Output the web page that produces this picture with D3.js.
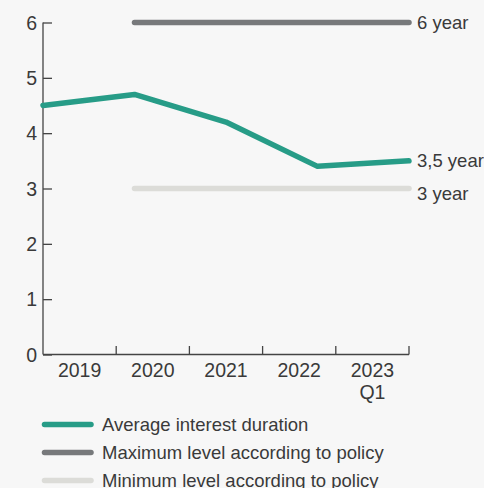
<!DOCTYPE html>
<html>
<head>
<meta charset="utf-8">
<script src="https://cdn.jsdelivr.net/npm/d3@7"></script>
<style>
  html, body { margin: 0; padding: 0; background: #f7f7f7; }
  svg { display: block; }
  text { font-family: "Liberation Sans", Arial, sans-serif; fill: #3a3a3a; }
</style>
</head>
<body>
<svg id="chart" width="484" height="488"></svg>
<script>
// Period labels along the x axis (second line where present)
const periods = ["2019", "2020", "2021", "2022", "2023\nQ1"];
// Average interest duration, years
const durationValues = [4.5, 4.7, 4.2, 3.4, 3.5];
// Policy limits, years (apply from 2020 onward)
const policyStart = 1;
const policyMax = 6;
const policyMin = 3;
const yTicks = [0, 1, 2, 3, 4, 5, 6];
const legendLabels = ["Average interest duration", "Maximum level according to policy", "Minimum level according to policy"];
const endLabels = ["3,5 year", "6 year", "3 year"];

const colors = { duration: "#279c87", max: "#77797b", min: "#dcdcd8", axis: "#444" };

const svg = d3.select("#chart");
const plotLeft = 43, plotRight = 409, plotTop = 22.5, plotBottom = 354.5;

const x = d3.scaleLinear().domain([0, periods.length - 1]).range([plotLeft, plotRight]);
const xBand = d3.scaleBand().domain(periods).range([plotLeft, plotRight]);
const y = d3.scaleLinear().domain([0, 6]).range([plotBottom, plotTop]);

// Y axis: ticks pointing inward
const yAxis = svg.append("g").attr("transform", `translate(${plotLeft},0)`)
  .call(d3.axisRight(y).tickValues(yTicks).tickSize(9).tickFormat(""));
yAxis.select(".domain").attr("d", `M0,${plotTop}V${plotBottom}`);
yAxis.selectAll("line, path").attr("stroke", colors.axis).attr("stroke-width", 1.3);
svg.append("g").selectAll("text").data(yTicks).join("text")
  .attr("x", plotLeft - 6).attr("y", d => y(d)).attr("dy", "0.36em")
  .attr("text-anchor", "end").style("font-size", "19.5px").text(d => d);

// X axis: band boundaries marked with upward ticks
const xAxis = svg.append("g").attr("transform", `translate(0,${plotBottom})`);
xAxis.append("line").attr("x1", plotLeft).attr("x2", plotRight).attr("stroke", colors.axis).attr("stroke-width", 1.3);
xAxis.selectAll("line.tick").data(periods.slice(1).map(p => xBand(p)).concat([plotRight])).join("line")
  .attr("class", "tick").attr("x1", d => d).attr("x2", d => d).attr("y1", 0).attr("y2", -8.5)
  .attr("stroke", colors.axis).attr("stroke-width", 1.3);
const xl = xAxis.selectAll("text").data(periods).join("text")
  .attr("x", d => xBand(d) + xBand.bandwidth() / 2).attr("y", 22)
  .attr("text-anchor", "middle").style("font-size", "19.5px");
xl.selectAll("tspan").data(d => d.split("\n")).join("tspan")
  .attr("x", function() { return this.parentNode.getAttribute("x"); })
  .attr("dy", (d, i) => i === 0 ? 0 : 22).text(d => d);

// Policy limit lines
const policyIdx = d3.range(policyStart, periods.length);
const line = d3.line().x(d => x(d[0])).y(d => y(d[1]));
[[policyMin, colors.min], [policyMax, colors.max]].forEach(([v, c]) => {
  svg.append("path").datum(policyIdx.map(i => [i, v]))
    .attr("d", line).attr("fill", "none").attr("stroke", c)
    .attr("stroke-width", 5.5).attr("stroke-linecap", "round");
});

// Average interest duration
svg.append("path").datum(durationValues.map((v, i) => [i, v]))
  .attr("d", line).attr("fill", "none").attr("stroke", colors.duration)
  .attr("stroke-width", 5.5).attr("stroke-linecap", "round").attr("stroke-linejoin", "round");

// End labels
const last = periods.length - 1;
const ends = [
  { v: durationValues[last], t: endLabels[0], dy: 0 },
  { v: policyMax, t: endLabels[1], dy: 0 },
  { v: policyMin, t: endLabels[2], dy: 5 }
];
svg.append("g").selectAll("text").data(ends).join("text")
  .attr("x", x(last) + 8).attr("y", d => y(d.v) + d.dy).attr("dy", "0.36em")
  .style("font-size", "18.5px").text(d => d.t);

// Legend
const legendColors = [colors.duration, colors.max, colors.min];
const lg = svg.append("g").selectAll("g").data(legendLabels).join("g")
  .attr("transform", (d, i) => `translate(0,${424.5 + i * 28})`);
lg.append("line").attr("x1", 44.5).attr("x2", 91).attr("stroke", (d, i) => legendColors[i])
  .attr("stroke-width", 5.5).attr("stroke-linecap", "round");
lg.append("text").attr("x", 102).attr("dy", "0.36em").style("font-size", "18.5px").text(d => d);
</script>
</body>
</html>
